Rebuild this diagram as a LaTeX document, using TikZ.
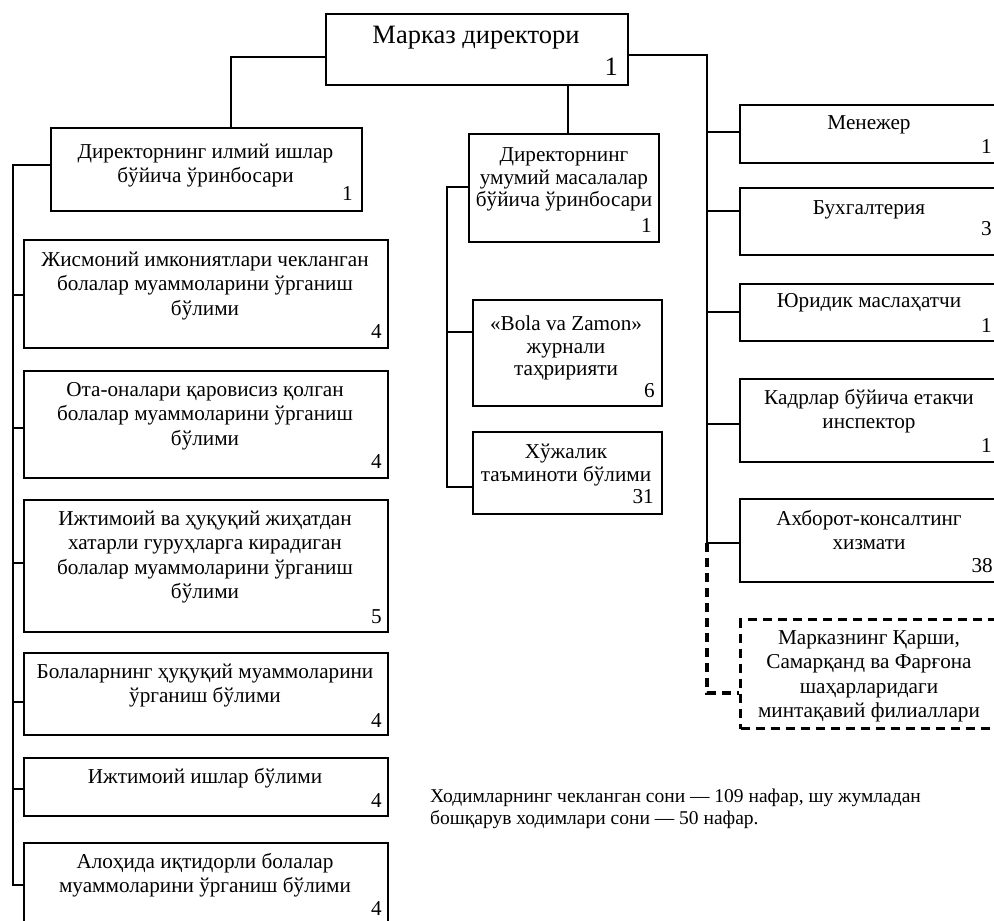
\documentclass[tikz,border=0pt]{standalone}
\usepackage{fontspec}
\setmainfont{Liberation Serif}
\usetikzlibrary{calc}
\newcommand\bxf{\fontsize{21.2}{24.5}\selectfont}
\newcommand\mxf{\fontsize{21.2}{22.5}\selectfont}
\newcommand\tpf{\fontsize{26.5}{30}\selectfont}
\newcommand\ftf{\fontsize{19.5}{22}\selectfont}
\begin{document}
\begin{tikzpicture}[x=1pt,y=-1pt,
  box/.style={draw, line width=1.8pt, inner sep=0pt, anchor=north west},
  dbox/.style={draw, line width=3.2pt, dash pattern=on 9pt off 6pt, inner sep=0pt, anchor=north west},
  txt/.style={anchor=north, align=center, inner sep=0pt, font=\bxf},
  mtxt/.style={anchor=north, align=center, inner sep=0pt, font=\mxf},
  num/.style={anchor=base east, inner sep=0pt, font=\bxf},
  conn/.style={line width=1.8pt},
  dconn/.style={line width=3.2pt, dash pattern=on 9pt off 6pt}]
\useasboundingbox (0,0) rectangle (994,921);
\clip (0,0) rectangle (994,921);

% top box
\node[box, minimum width=302pt, minimum height=71pt] (top) at (325,13) {};
\node[anchor=base, inner sep=0pt, font=\tpf] (topt) at (476,43) {Марказ директори};
\node[anchor=base east, inner sep=0pt, font=\tpf] (topn) at (618,75) {1};

% left column
\node[box, minimum width=311pt, minimum height=83pt] (sci) at (50,127) {};
\node[txt] (scit) at (205.5,141) {\strut Директорнинг илмий ишлар\\бўйича ўринбосари};
\node[num] (scin) at (353,200) {1};

\node[box, minimum width=364pt, minimum height=108pt] (l1) at (23,239) {};
\node[txt] (l1t) at (205,249) {\strut Жисмоний имкониятлари чекланган\\болалар муаммоларини ўрганиш\\бўлими};
\node[num] (l1n) at (382,338) {4};

\node[box, minimum width=364pt, minimum height=107pt] (l2) at (23,370) {};
\node[txt] (l2t) at (205,379) {\strut Ота-оналари қаровисиз қолган\\болалар муаммоларини ўрганиш\\бўлими};
\node[num] (l2n) at (382,468) {4};

\node[box, minimum width=364pt, minimum height=132pt] (l3) at (23,499) {};
\node[txt] (l3t) at (205,508) {\strut Ижтимоий ва ҳуқуқий жиҳатдан\\хатарли гуруҳларга кирадиган\\болалар муаммоларини ўрганиш\\бўлими};
\node[num] (l3n) at (382,623) {5};

\node[box, minimum width=364pt, minimum height=82pt] (l4) at (23,652) {};
\node[txt] (l4t) at (205,661) {\strut Болаларнинг ҳуқуқий муаммоларини\\ўрганиш бўлими};
\node[num] (l4n) at (382,727) {4};

\node[box, minimum width=364pt, minimum height=58pt] (l5) at (23,757) {};
\node[txt] (l5t) at (205,766) {\strut Ижтимоий ишлар бўлими};
\node[num] (l5n) at (382,807) {4};

\node[box, minimum width=364pt, minimum height=100pt] (l6) at (23,842) {};
\node[txt] (l6t) at (205,851) {\strut Алоҳида иқтидорли болалар\\муаммоларини ўрганиш бўлими};
\node[num] (l6n) at (382,915) {4};

% middle column
\node[box, minimum width=190pt, minimum height=108pt] (gen) at (468,133) {};
\node[mtxt] (gent) at (564,146) {\strut Директорнинг\\умумий масалалар\\бўйича ўринбосари};
\node[num] (genn) at (652,232) {1};

\node[box, minimum width=189pt, minimum height=106pt] (bola) at (472,299) {};
\node[mtxt] (bolat) at (566,315) {\strut «Bola va Zamon»\\журнали\\таҳририяти};
\node[num] (bolan) at (655,397) {6};

\node[box, minimum width=189pt, minimum height=82pt] (xoj) at (472,431) {};
\node[mtxt] (xojt) at (566,443) {\strut Хўжалик\\таъминоти бўлими};
\node[num] (xojn) at (654,503) {31};

% right column
\node[box, minimum width=261pt, minimum height=58pt] (man) at (739,104) {};
\node[txt] (mant) at (869,112) {\strut Менежер};
\node[num] (mann) at (992,153) {1};

\node[box, minimum width=261pt, minimum height=67pt] (bux) at (739,187) {};
\node[txt] (buxt) at (869,197) {\strut Бухгалтерия};
\node[num] (buxn) at (992,235) {3};

\node[box, minimum width=261pt, minimum height=57pt] (yur) at (739,283) {};
\node[txt] (yurt) at (869,290) {\strut Юридик маслаҳатчи};
\node[num] (yurn) at (992,332) {1};

\node[box, minimum width=261pt, minimum height=83pt] (kad) at (739,378) {};
\node[txt] (kadt) at (869,387) {\strut Кадрлар бўйича етакчи\\инспектор};
\node[num] (kadn) at (992,452) {1};

\node[box, minimum width=261pt, minimum height=83pt] (axb) at (739,498) {};
\node[txt] (axbt) at (869,508) {\strut Ахборот-консалтинг\\хизмати};
\node[num] (axbn) at (993,572) {38};

\node[dbox, minimum width=261pt, minimum height=109pt] (fil) at (739,618) {};
\node[txt] (filt) at (869,627) {\strut Марказнинг Қарши,\\Самарқанд ва Фарғона\\шаҳарларидаги\\минтақавий филиаллари};

% footnote text
\node[anchor=north west, align=left, inner sep=0pt, font=\ftf] (note) at (430,787) {\strut Ходимларнинг чекланган сони — 109 нафар, шу жумладан\\бошқарув ходимлари сони — 50 нафар.};

% connectors
\draw[conn] (top.west |- 0,57) -| (sci.north -| 231,0);
\draw[conn] (top.south -| 568,0) -- (gen.north -| 568,0);

\coordinate (rt) at (707,55);
\coordinate (rb) at (707,543);
\draw[conn] (top.east |- rt) -- (rt) -- (rb) -- (axb.west |- rb);
\draw[conn] (rt |- 0,132) -- (man.west |- 0,132);
\draw[conn] (rt |- 0,211) -- (bux.west |- 0,211);
\draw[conn] (rt |- 0,312) -- (yur.west |- 0,312);
\draw[conn] (rt |- 0,424) -- (kad.west |- 0,424);
\coordinate (rd) at (707,693);
\draw[dconn] (rb) -- (rd) -- (fil.west |- rd);

\coordinate (mt) at (447,187);
\coordinate (mb) at (447,487);
\draw[conn] (gen.west |- mt) -- (mt) -- (mb) -- (xoj.west |- mb);
\draw[conn] (mt |- 0,332) -- (bola.west |- 0,332);

\coordinate (lt) at (13,165);
\coordinate (lb) at (13,885);
\draw[conn] (sci.west |- lt) -- (lt) -- (lb) -- (l6.west |- lb);
\draw[conn] (lt |- 0,295) -- (l1.west |- 0,295);
\draw[conn] (lt |- 0,428) -- (l2.west |- 0,428);
\draw[conn] (lt |- 0,563) -- (l3.west |- 0,563);
\draw[conn] (lt |- 0,702) -- (l4.west |- 0,702);
\draw[conn] (lt |- 0,789) -- (l5.west |- 0,789);
\end{tikzpicture}
\end{document}
